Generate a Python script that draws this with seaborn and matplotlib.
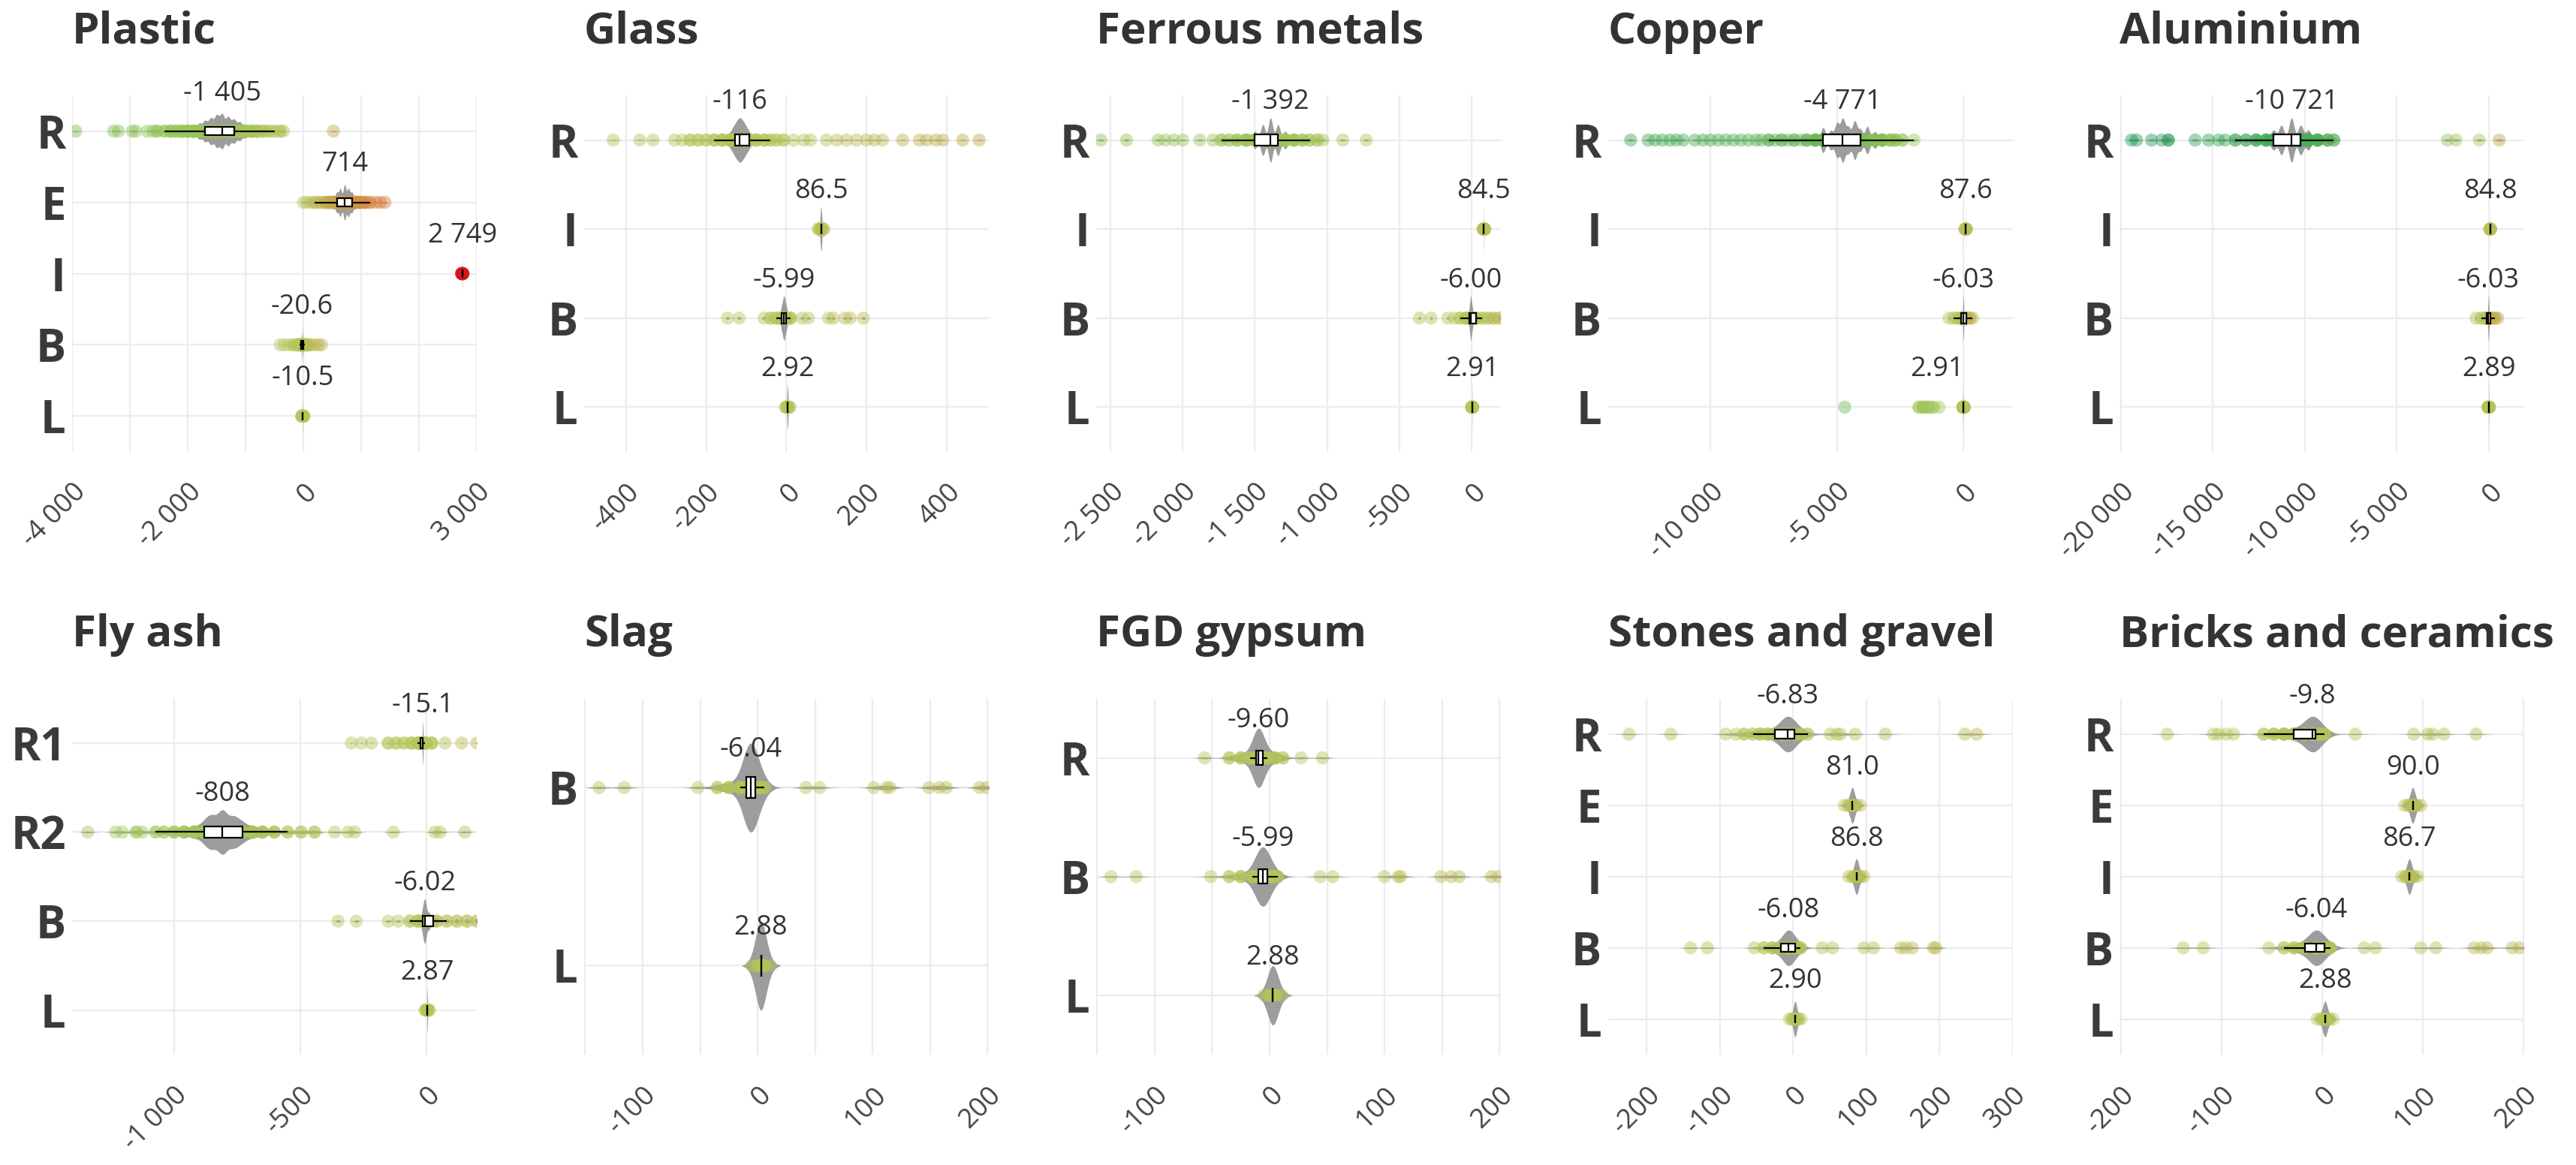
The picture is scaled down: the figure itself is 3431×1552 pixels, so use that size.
import numpy as np
import pandas as pd
import matplotlib
matplotlib.use("Agg")
import matplotlib.pyplot as plt
from matplotlib.colors import LinearSegmentedColormap, Normalize
from matplotlib.ticker import MultipleLocator
import seaborn as sns

# each row is a list of (value, how many points sit there)

# Plastic
plastic_R = [(-3940, 1), (-3280, 1), (-3200, 1), (-2960, 1), (-2900, 1), (-2700, 1), (-2600, 1),
             (-2530, 2), (-2400, 2), (-2300, 3), (-2200, 3), (-2100, 4), (-2000, 5), (-1900, 8),
             (-1800, 12), (-1700, 16), (-1600, 20), (-1500, 24), (-1405, 26), (-1300, 22),
             (-1200, 18), (-1100, 14), (-1000, 10), (-900, 6), (-800, 4), (-700, 3), (-600, 2),
             (-500, 2), (-400, 2), (-345, 1), (520, 1)]
plastic_E = [(0, 1), (60, 1), (130, 1), (200, 2), (290, 2), (380, 3), (450, 4), (520, 6), (580, 10),
             (640, 14), (714, 18), (780, 14), (840, 10), (900, 6), (980, 4), (1060, 3), (1150, 2),
             (1250, 1), (1330, 1), (1410, 1)]
plastic_I = [(2735, 2), (2749, 6), (2762, 2)]
plastic_B = [(-400, 1), (-330, 1), (-250, 1), (-170, 2), (-100, 3), (-60, 5), (-35, 8), (-20.6, 12),
             (-5, 8), (20, 5), (60, 3), (120, 2), (200, 1), (260, 1), (315, 1)]
plastic_L = [(-30, 2), (-10.5, 8), (10, 2)]
plastic_labels = ["-1 405", "714", "2 749", "-20.6", "-10.5"]

# Glass
glass_R = [(-432, 1), (-366, 1), (-333, 1), (-279, 1), (-260, 1), (-240, 2), (-220, 2), (-200, 2),
           (-180, 3), (-160, 4), (-140, 10), (-128, 20), (-116, 30), (-104, 20), (-92, 10), (-75, 4),
           (-55, 3), (-40, 2), (-25, 2), (-7, 2), (18, 1), (43, 1), (60, 1), (100, 1), (126, 1),
           (150, 1), (175, 1), (200, 1), (220, 1), (240, 1), (290, 1), (332, 1), (350, 1), (373, 1),
           (390, 1), (440, 1), (481, 1)]
glass_I = [(80, 2), (86.5, 6), (93, 2)]
glass_B = [(-147, 1), (-118, 1), (-56, 1), (-40, 2), (-25, 3), (-12, 6), (-5.99, 12), (0, 6), (10, 3),
           (39, 1), (55, 1), (105, 1), (117, 1), (146, 1), (159, 1), (192, 1)]
glass_L = [(-2, 2), (2.92, 8), (8, 2)]
glass_labels = ["-116", "86.5", "-5.99", "2.92"]

# Ferrous metals
ferrous_R = [(-2567, 1), (-2389, 1), (-2170, 1), (-2120, 1), (-2060, 1), (-2000, 1), (-1882, 1),
             (-1790, 1), (-1733, 2), (-1680, 2), (-1624, 3), (-1560, 5), (-1500, 8), (-1445, 14),
             (-1392, 20), (-1340, 14), (-1290, 8), (-1230, 5), (-1170, 3), (-1120, 2), (-1070, 2),
             (-1030, 1), (-892, 1), (-730, 1)]
ferrous_I = [(78, 2), (84.5, 6), (91, 2)]
ferrous_B = [(-362, 1), (-281, 1), (-166, 1), (-120, 1), (-80, 2), (-40, 3), (-15, 5), (-6.0, 10),
             (5, 5), (30, 3), (70, 2), (110, 2), (150, 2), (190, 2), (230, 1)]
ferrous_L = [(-2, 2), (2.91, 8), (8, 2)]
ferrous_labels = ["-1 392", "84.5", "-6.00", "2.91"]

# Copper
copper_R = [(-13160, 1), (-12470, 1), (-12200, 1), (-11900, 1), (-11600, 1), (-11350, 1), (-11085, 1),
            (-10620, 1), (-10300, 1), (-10000, 1), (-9700, 1), (-9400, 1), (-9100, 1), (-8800, 1),
            (-8500, 1), (-8200, 1), (-8000, 1), (-7700, 2), (-7450, 1), (-7200, 2), (-6950, 1),
            (-6700, 2), (-6450, 1), (-6200, 3), (-5860, 5), (-5550, 12), (-5250, 9), (-5000, 16),
            (-4771, 20), (-4550, 12), (-4300, 18), (-4074, 10), (-3800, 13), (-3500, 8), (-3214, 6),
            (-2900, 3), (-2700, 3), (-2420, 2), (-1958, 1)]
copper_I = [(60, 2), (87.6, 6), (115, 2)]
copper_B = [(-569, 1), (-400, 1), (-250, 2), (-100, 3), (-6.03, 8), (100, 3), (250, 2), (357, 1)]
copper_L = [(-4696, 1), (-1759, 2), (-1600, 3), (-1400, 3), (-1200, 2), (-966, 1), (-20, 5),
            (2.91, 30), (25, 5)]
copper_labels = ["-4 771", "87.6", "-6.03", "2.91"]

# Aluminium
aluminium_R = [(-19420, 1), (-19150, 1), (-18330, 1), (-17780, 1), (-17420, 2), (-15960, 1),
               (-15240, 1), (-14690, 1), (-14330, 1), (-13780, 2), (-13200, 2), (-12640, 3),
               (-12100, 4), (-11700, 8), (-11270, 12), (-10721, 18), (-10220, 12), (-9800, 8),
               (-9300, 5), (-8760, 3), (-8420, 2), (-2240, 1), (-1780, 1), (-510, 1), (580, 1)]
aluminium_I = [(70, 2), (84.8, 6), (100, 2)]
aluminium_B = [(-691, 1), (-400, 2), (-150, 3), (-6.03, 10), (150, 3), (350, 2), (491, 1)]
aluminium_L = [(-50, 2), (2.89, 8), (50, 2)]
aluminium_labels = ["-10 721", "84.8", "-6.03", "2.89"]

# Fly ash
flyash_R1 = [(-298, 1), (-258, 1), (-219, 1), (-152, 2), (-120, 2), (-90, 2), (-60, 3), (-35, 3),
             (-25, 8), (-15.1, 25), (-5, 8), (20, 3), (73, 1), (139, 1), (199, 1)]
flyash_R2 = [(-1342, 1), (-1232, 1), (-1205, 1), (-1150, 2), (-1126, 1), (-1073, 2), (-1040, 2),
             (-1000, 3), (-960, 4), (-920, 6), (-880, 10), (-850, 16), (-808, 24), (-765, 16),
             (-730, 10), (-690, 6), (-650, 4), (-603, 3), (-550, 2), (-497, 2), (-444, 2), (-364, 1),
             (-311, 1), (-285, 1), (-132, 1), (33, 1), (53, 1), (152, 1)]
flyash_B = [(-351, 1), (-278, 1), (-152, 1), (-113, 1), (-66, 2), (-35, 3), (-15, 6), (-6.02, 14),
            (10, 6), (40, 3), (80, 2), (120, 2), (160, 2), (200, 2), (219, 1)]
flyash_L = [(-5, 2), (2.87, 8), (10, 2)]
flyash_labels = ["-15.1", "-808", "-6.02", "2.87"]

# Slag
slag_B = [(-138, 1), (-116, 1), (-52, 1), (-35, 2), (-25, 3), (-15, 4), (-10, 8), (-6.04, 24),
          (-2, 8), (2, 4), (6, 3), (42, 1), (54, 1), (101, 1), (112, 1), (115, 1), (149, 1),
          (158, 1), (164, 1), (193, 1), (199, 1)]
slag_L = [(-5, 1), (0, 2), (2.88, 10), (6, 2), (11, 1)]
slag_labels = ["-6.04", "2.88"]

# FGD gypsum
fgd_R = [(-56.5, 1), (-35, 2), (-25, 3), (-17, 4), (-12, 5), (-9.6, 20), (-6, 5), (-2, 4), (5, 3),
         (11.6, 2), (27.5, 1), (46, 1)]
fgd_B = [(-138, 1), (-116, 1), (-51, 1), (-35, 2), (-25, 3), (-15, 4), (-10, 8), (-5.99, 24),
         (-2, 8), (2, 4), (7, 3), (44, 1), (55, 1), (100, 1), (112, 1), (114, 1), (149, 1),
         (158, 1), (165, 1), (193, 1), (199, 1)]
fgd_L = [(-5, 1), (0, 2), (2.88, 10), (6, 2), (11, 1)]
fgd_labels = ["-9.60", "-5.99", "2.88"]

# Stones and gravel
stones_R = [(-224, 1), (-167, 1), (-92, 1), (-78, 1), (-67, 2), (-55, 2), (-45, 3), (-35, 3), (-25, 4),
            (-15, 6), (-6.83, 20), (2, 6), (10, 3), (20, 2), (51, 1), (60, 1), (65, 1), (85, 1),
            (126, 1), (235, 1), (251, 1)]
stones_E = [(70, 1), (76, 2), (81.0, 10), (86, 2), (92, 1)]
stones_I = [(76, 1), (82, 2), (86.8, 10), (92, 2), (97, 1)]
stones_B = [(-140, 1), (-117, 1), (-53, 1), (-40, 2), (-28, 3), (-17, 6), (-6.08, 20), (3, 5), (10, 3),
            (40, 1), (54, 1), (97, 1), (110, 1), (147, 1), (154, 1), (163, 1), (192, 1), (195, 1)]
stones_L = [(-5, 1), (-1, 2), (2.90, 10), (7, 2), (11, 1)]
stones_labels = ["-6.83", "81.0", "86.8", "-6.08", "2.90"]

# Bricks and ceramics
bricks_R = [(-154, 1), (-108, 1), (-103, 1), (-95, 1), (-88, 1), (-58, 2), (-48, 3), (-38, 5),
            (-28, 6), (-18, 8), (-9.8, 24), (-3, 8), (2, 4), (33, 1), (91, 1), (105, 1), (110, 1),
            (121, 1), (153, 1)]
bricks_E = [(82, 1), (86, 2), (90.0, 10), (94, 2), (98, 1)]
bricks_I = [(79, 1), (83, 2), (86.7, 10), (91, 2), (95, 1)]
bricks_B = [(-138, 1), (-118, 1), (-53, 1), (-38, 2), (-28, 3), (-17, 6), (-6.04, 20), (2, 5), (8, 3),
            (42, 1), (53, 1), (98, 1), (113, 1), (151, 1), (158, 1), (164, 1), (189, 1), (196, 1)]
bricks_L = [(-5, 1), (-1, 2), (2.88, 10), (7, 2), (11, 1)]
bricks_labels = ["-9.8", "90.0", "86.7", "-6.04", "2.88"]

# title, rows, data, labels, ticks, xlim, minor grid step, violin smoothing
panels = [
    ("Plastic", ["R", "E", "I", "B", "L"], [plastic_R, plastic_E, plastic_I, plastic_B, plastic_L],
     plastic_labels, [-4000, -2000, 0, 3000], (-4000, 3000), 1000, 0.35),
    ("Glass", ["R", "I", "B", "L"], [glass_R, glass_I, glass_B, glass_L],
     glass_labels, [-400, -200, 0, 200, 400], (-505, 505), None, 0.8),
    ("Ferrous metals", ["R", "I", "B", "L"], [ferrous_R, ferrous_I, ferrous_B, ferrous_L],
     ferrous_labels, [-2500, -2000, -1500, -1000, -500, 0], (-2600, 200), None, 0.35),
    ("Copper", ["R", "I", "B", "L"], [copper_R, copper_I, copper_B, copper_L],
     copper_labels, [-10000, -5000, 0], (-14060, 1940), None, 0.25),
    ("Aluminium", ["R", "I", "B", "L"], [aluminium_R, aluminium_I, aluminium_B, aluminium_L],
     aluminium_labels, [-20000, -15000, -10000, -5000, 0], (-20060, 1950), None, 0.35),
    ("Fly ash", ["R1", "R2", "B", "L"], [flyash_R1, flyash_R2, flyash_B, flyash_L],
     flyash_labels, [-1000, -500, 0], (-1404, 199), None, 0.5),
    ("Slag", ["B", "L"], [slag_B, slag_L], slag_labels, [-100, 0, 100, 200], (-151, 201), 50, 2.5),
    ("FGD gypsum", ["R", "B", "L"], [fgd_R, fgd_B, fgd_L], fgd_labels,
     [-100, 0, 100, 200], (-151, 201), 50, 2.5),
    ("Stones and gravel", ["R", "E", "I", "B", "L"], [stones_R, stones_E, stones_I, stones_B, stones_L],
     stones_labels, [-200, -100, 0, 100, 200, 300], (-253, 300), None, 1.2),
    ("Bricks and ceramics", ["R", "E", "I", "B", "L"], [bricks_R, bricks_E, bricks_I, bricks_B, bricks_L],
     bricks_labels, [-200, -100, 0, 100, 200], (-201, 201), None, 1.2),
]

# the one label that was pushed aside in the original
label_nudge = {("Copper", "L"): -1040}

# green -> olive -> orange -> red, by value
cmap = LinearSegmentedColormap.from_list("impact", [
    (0.0, "#239a5a"), (0.4348, "#4cae57"), (0.6522, "#6fbb55"), (0.7826, "#98c65a"),
    (0.8696, "#b6c65a"), (0.8913, "#c3a94e"), (0.9304, "#dc7b3c"), (0.9891, "#d4171e"),
    (1.0, "#c8101a")], N=2048)
norm = Normalize(vmin=-20000, vmax=3000)


def robust_bw(kde):
    d = kde.dataset.ravel()
    sd = d.std(ddof=1)
    q1, q3 = np.percentile(d, [25, 75])
    s = min(sd, (q3 - q1) / 1.34) if q3 > q1 else sd
    return 0.9 * s * len(d) ** -0.2 / sd


sns.set_style("white")
plt.rcParams["font.family"] = ["Open Sans", "DejaVu Sans"]
text_col = "#333333"

fig, axes = plt.subplots(2, 5, figsize=(17.155, 7.76), dpi=200)
fig.subplots_adjust(left=0.028, right=0.98, top=0.918, bottom=0.0947, wspace=0.265, hspace=0.693)

for ax, (title, cats, groups, labels, ticks, xlim, minor, bw) in zip(axes.flat, panels):
    rows = [(c, v) for c, g in zip(cats, groups) for v, n in g for _ in range(n)]
    df = pd.DataFrame(rows, columns=["cat", "value"])

    sns.violinplot(data=df, x="value", y="cat", order=cats, color="#9d9d9d", saturation=1,
                   linewidth=0, inner=None, width=0.5, density_norm="width",
                   bw_method=robust_bw, bw_adjust=bw, gridsize=500, ax=ax, zorder=2)
    sns.stripplot(data=df, x="value", y="cat", order=cats, hue="value", palette=cmap,
                  hue_norm=norm, jitter=False, size=6.3, alpha=0.45, linewidth=0,
                  legend=False, ax=ax, zorder=3)
    sns.boxplot(data=df, x="value", y="cat", order=cats, width=0.12, color="white",
                linecolor="black", linewidth=0.8, showcaps=False, showfliers=False,
                saturation=1, ax=ax, zorder=4)

    for i, lab in enumerate(labels):
        xv = float(lab.replace(" ", "")) + label_nudge.get((title, cats[i]), 0)
        ax.annotate(lab, (xv, i), xytext=(0, 14.8), textcoords="offset points",
                    ha="center", va="baseline", fontsize=13, color=text_col, zorder=6)

    ax.set_xlim(xlim)
    ax.set_xticks(ticks)
    ax.set_xticklabels([f"{t:,}".replace(",", " ") for t in ticks])
    if minor:
        ax.xaxis.set_minor_locator(MultipleLocator(minor))
    ax.grid(True, which="both", color="#ececec", lw=0.8)
    ax.set_axisbelow(True)
    ax.set_xlabel("")
    ax.set_ylabel("")
    sns.despine(ax=ax, left=True, bottom=True)
    ax.tick_params(axis="both", which="both", length=0)
    ax.tick_params(axis="y", labelsize=21.5, pad=3)
    ax.tick_params(axis="x", pad=13)
    for t in ax.get_yticklabels():
        t.set_fontweight("bold")
        t.set_color("#3a3a3a")
    for t in ax.get_xticklabels():
        t.set_rotation(45)
        t.set_ha("right")
        t.set_va("top")
        t.set_rotation_mode("anchor")
        t.set_fontsize(13)
        t.set_color("#444444")
    ax.set_title(title, loc="left", fontsize=21, fontweight="bold", color=text_col, pad=25)

fig.savefig("out.png", dpi=200)
